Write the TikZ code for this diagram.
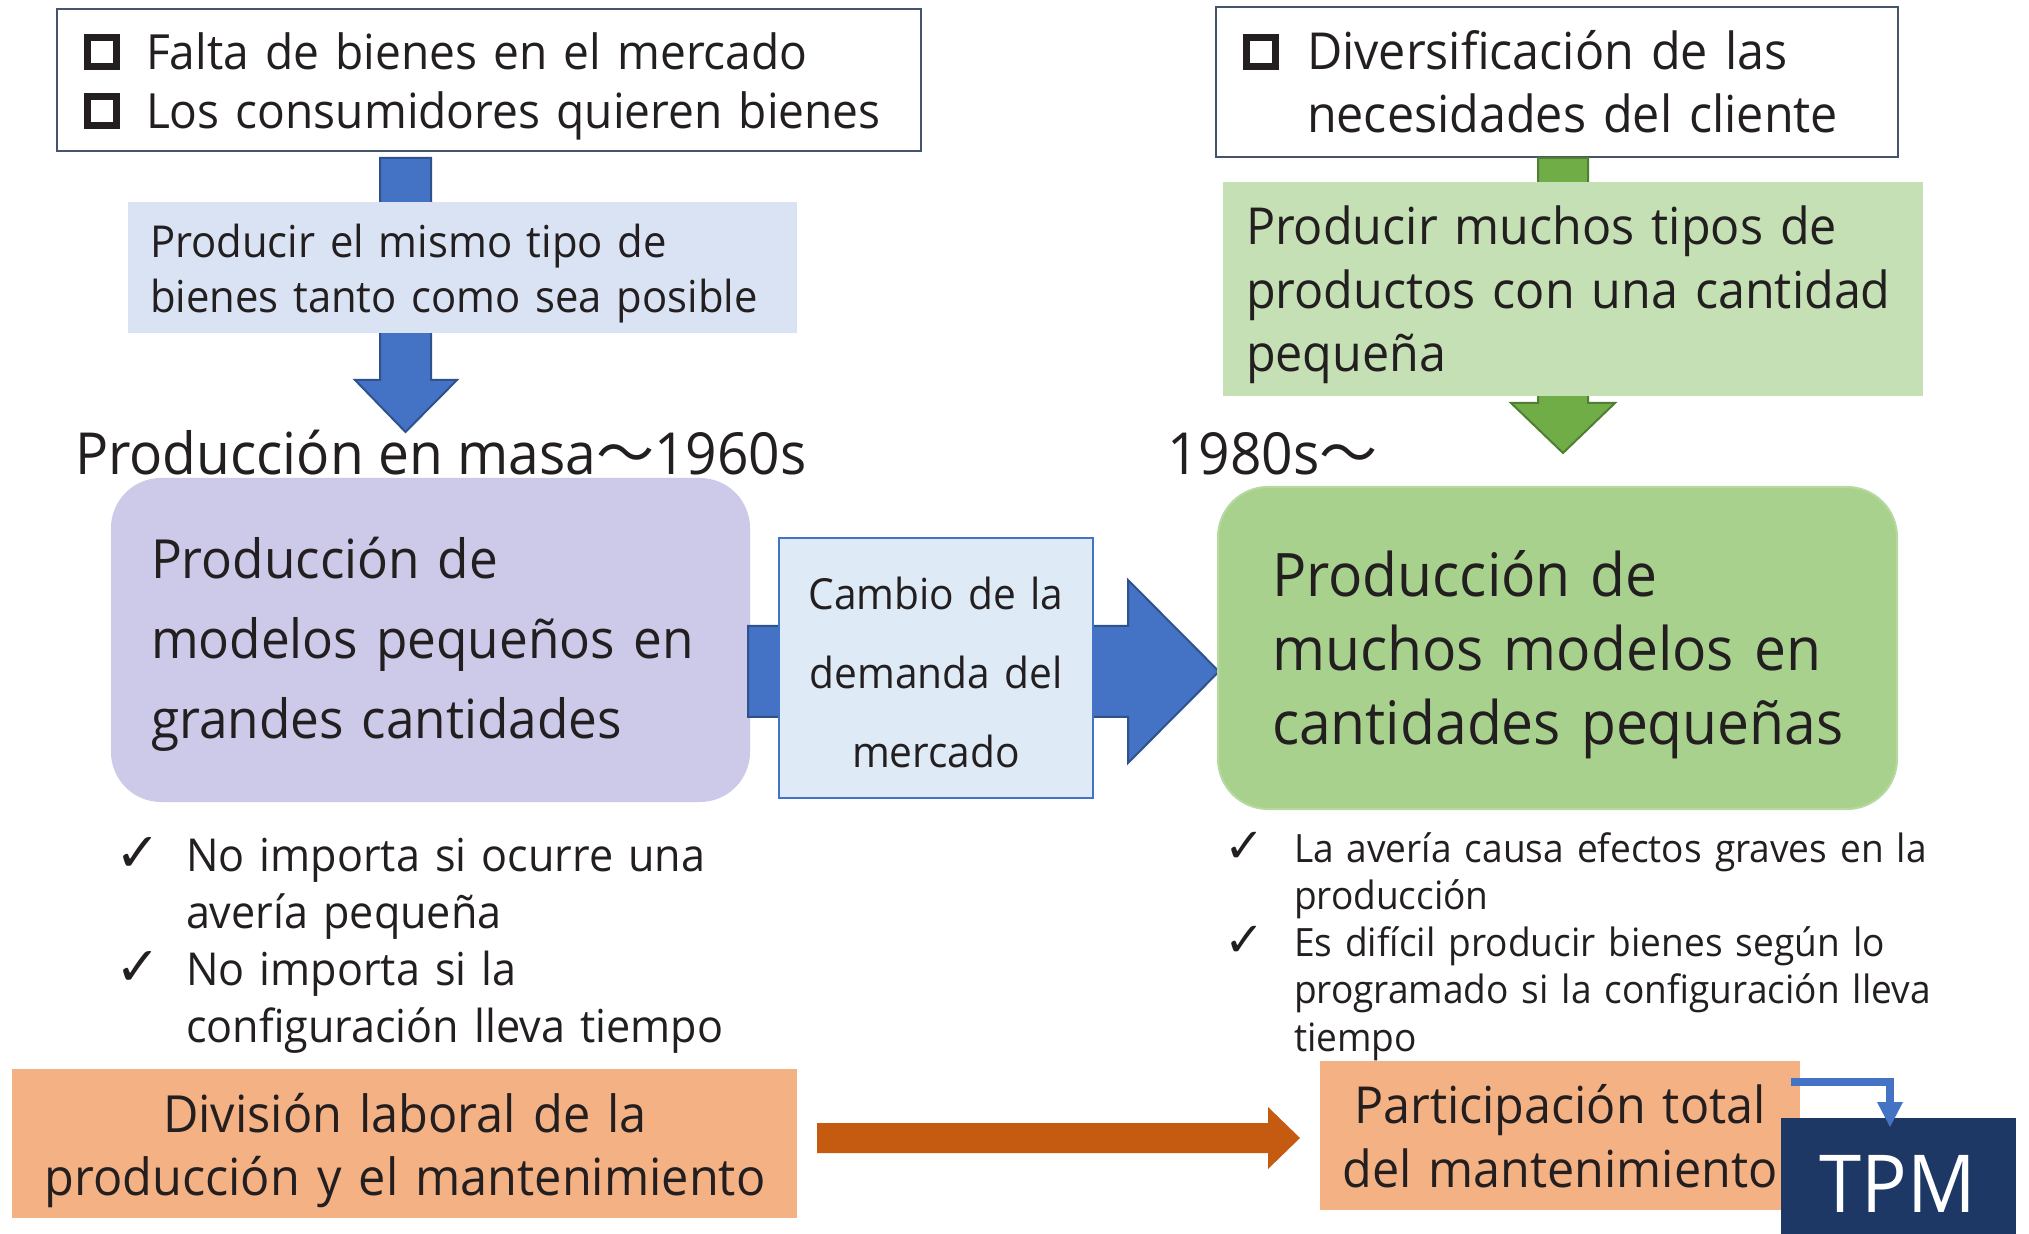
\documentclass[tikz,border=0pt]{standalone}
\usepackage{fontspec}
\setmainfont{Open Sans}[FakeStretch=0.95]
\newfontfamily\cjkf{Noto Sans CJK SC}
\newfontfamily\djv{DejaVu Sans}
\usetikzlibrary{fit}
\definecolor{tx}{RGB}{35,31,32}
\definecolor{frame}{RGB}{68,84,106}
\definecolor{lblue}{RGB}{218,227,243}
\definecolor{lav}{RGB}{204,202,232}
\definecolor{midfill}{RGB}{222,235,247}
\definecolor{bl}{RGB}{68,114,196}
\definecolor{bld}{RGB}{47,82,143}
\definecolor{lgreen}{RGB}{197,224,180}
\definecolor{mgreen}{RGB}{169,209,142}
\definecolor{mgreenline}{RGB}{183,217,160}
\definecolor{gr}{RGB}{112,173,71}
\definecolor{grd}{RGB}{80,126,50}
\definecolor{lorange}{RGB}{244,177,131}
\definecolor{dorange}{RGB}{197,90,17}
\definecolor{navy}{RGB}{29,56,100}
\newcommand\fsz[2]{\fontsize{#1pt}{#2pt}\selectfont}
\newcommand\sqb{\raisebox{3.5pt}{\setlength\fboxrule{3.5pt}\setlength\fboxsep{0pt}\fbox{\rule{0pt}{11pt}\hspace{11pt}}}}
\newcommand\chk[1]{{\djv\fontsize{#1pt}{#1pt}\selectfont ✓}}
\begin{document}
\begin{tikzpicture}[x=0.5pt,y=-0.5pt,
  shp/.style={inner sep=0pt, outer sep=0pt},
  txt/.style={inner sep=0pt, outer sep=0pt, anchor=base west, align=left, text=tx},
  ctxt/.style={inner sep=0pt, outer sep=0pt, anchor=base, align=center, text=tx},
  blkblue/.style={fill=bl, draw=bld, line width=1pt},
  blkgreen/.style={fill=gr, draw=grd, line width=1pt},
  blkorange/.style={fill=dorange},
]
\fill[white] (0,0) rectangle (2029,1234);
\useasboundingbox (0,0) rectangle (2029,1234);

% ---------- top left ----------
\node[shp, fit={(57,9) (921,151)}, draw=frame, line width=1.2pt, fill=white] (tl) {};
\node[txt, text width=500pt, font=\fsz{24.25}{29.5}] (tltext) at (84,70)
  {\makebox[31pt][l]{\sqb}Falta de bienes en el mercado\\
   \makebox[31pt][l]{\sqb}Los consumidores quieren bienes};

\draw[blkblue] (380,158) -- (431,158) -- (431,380) -- (457,380) -- (405.5,432) -- (355,380) -- (380,380) -- cycle;

\node[shp, fit={(128,202) (797,333)}, fill=lblue] (lb) {};
\node[txt, text width=400pt, font=\fsz{22}{27.5}] (lbtext) at (150,258)
  {Producir el mismo tipo de\\bienes tanto como sea posible};

\node[txt, font=\fsz{29}{35}] (head1) at (75,475) {Producción en masa{\cjkf ～}1960s};

% ---------- purple ----------
\node[shp, fit={(111,478) (750,802)}, fill=lav, rounded corners=25pt] (pur) {};

\draw[blkblue] (748,626) -- (1128,626) -- (1128,580) -- (1219,671.5) -- (1128,763) -- (1128,717) -- (748,717) -- cycle;

\node[txt, text width=330pt, font=\fsz{27}{40}] (purtext) at (151,579)
  {Producción de\\modelos pequeños en\\grandes cantidades};

\node[shp, fit={(779,538) (1093,798)}, fill=midfill, draw=bl, line width=1pt] (mid) {};
\node[ctxt, text width=157pt, font=\fsz{21.4}{39.5}] (midtext) at (936,610)
  {Cambio de la\\demanda del\\mercado};

% ---------- top right ----------
\node[shp, fit={(1216,7) (1898,157)}, draw=frame, line width=1.2pt, fill=white] (tr) {};
\node[txt, text width=340pt, font=\fsz{25.5}{31.5}] (trtext) at (1243,70)
  {\makebox[32pt][l]{\sqb}Diversificación de las\\
   \hspace*{32pt}necesidades del cliente};

\draw[blkgreen] (1538,158) -- (1588,158) -- (1588,403) -- (1615,403) -- (1563,453) -- (1511,403) -- (1538,403) -- cycle;

\node[shp, fit={(1223,182) (1923,396)}, fill=lgreen] (lg) {};
\node[txt, text width=345pt, font=\fsz{25.5}{31.75}] (lgtext) at (1246,245)
  {Producir muchos tipos de\\productos con una cantidad\\pequeña};

\node[txt, font=\fsz{29}{35}] (head2) at (1167,475) {1980s{\cjkf ～}};

\node[shp, fit={(1218,487) (1897,809)}, fill=mgreen, draw=mgreenline, line width=1pt, rounded corners=25pt] (mg) {};
\node[txt, text width=330pt, font=\fsz{30}{37}] (mgtext) at (1272,597)
  {Producción de\\muchos modelos en\\cantidades pequeñas};

% ---------- left list ----------
\node[txt] (c1) at (115,871) {\chk{27}};
\node[txt, text width=330pt, font=\fsz{22.7}{28.5}] (l1) at (186,871)
  {No importa si ocurre una\\avería pequeña};
\node[txt] (c2) at (115,985) {\chk{27}};
\node[txt, text width=330pt, font=\fsz{22.7}{28.5}] (l2) at (186,985)
  {No importa si la\\configuración lleva tiempo};

% ---------- right list ----------
\node[txt] (c3) at (1224,862) {\chk{24}};
\node[txt, text width=340pt, font=\fsz{19.5}{23.75}] (r1) at (1294,862)
  {La avería causa efectos graves en la\\producción};
\node[txt] (c4) at (1224,956) {\chk{24}};
\node[txt, text width=340pt, font=\fsz{19.5}{23.75}] (r2) at (1294,956)
  {Es difícil producir bienes según lo\\programado si la configuración lleva\\tiempo};

% ---------- bottom ----------
\node[shp, fit={(12,1069) (797,1218)}, fill=lorange] (ol) {};
\node[ctxt, text width=392pt, font=\fsz{25.6}{31.5}] (oltext) at (405,1132)
  {División laboral de la\\producción y el mantenimiento};

\fill[blkorange] (817,1123) -- (1268,1123) -- (1268,1107) -- (1300,1138) -- (1268,1169) -- (1268,1153) -- (817,1153) -- cycle;

\node[shp, fit={(1320,1061) (1800,1210)}, fill=lorange] (or) {};
\node[ctxt, text width=240pt, font=\fsz{25.5}{32}] (ortext) at (1560,1123)
  {Participación total\\del mantenimiento};

\node[shp, fit={(1781,1118) (2016,1234)}, fill=navy] (tpm) {};
\node[ctxt, text=white, font=\fsz{40}{40}] (tpmtext) at (1898,1212) {TPM};

\coordinate (e1) at (1791,1082);
\coordinate (e2) at (1890,1104);
\draw[bl, line width=4pt] (e1) -| (e2);
\fill[bl] (1877,1102) -- (1903,1102) -- (1890,1127) -- cycle;
\end{tikzpicture}
\end{document}
